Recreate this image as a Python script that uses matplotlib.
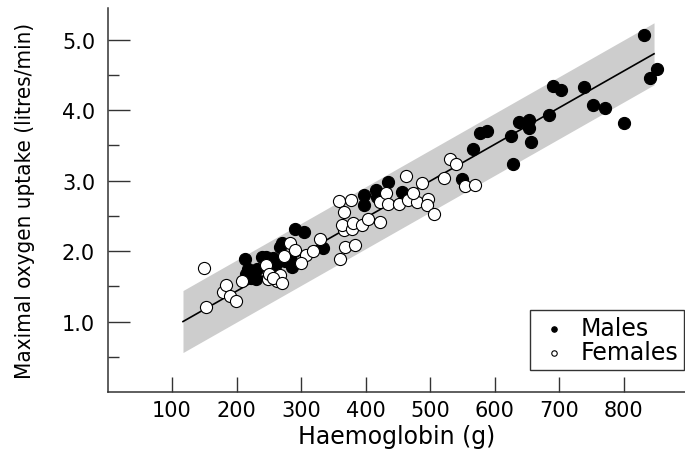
import matplotlib
matplotlib.use("Agg")
import matplotlib.pyplot as plt
import numpy as np

# haemoglobin (g) and VO2max (litres/min)
males_hb = [213, 218, 215, 231, 230, 239, 252, 257, 261, 267, 270, 275, 283,
            286, 291, 305, 334, 397, 397, 416, 417, 435, 457, 549, 567, 577,
            588, 625, 628, 638, 654, 654, 656, 685, 690, 703, 739, 753, 771,
            800, 832, 841, 851, 246, 222]
males_vo2 = [1.89, 1.75, 1.67, 1.75, 1.61, 1.91, 1.68, 1.90, 1.82, 2.06, 2.12,
             1.86, 1.89, 1.78, 2.31, 2.27, 2.05, 2.80, 2.66, 2.86, 2.77, 2.98,
             2.84, 3.03, 3.45, 3.68, 3.70, 3.63, 3.23, 3.83, 3.86, 3.75, 3.55,
             3.93, 4.35, 4.29, 4.33, 4.08, 4.03, 3.82, 5.06, 4.45, 4.58, 1.92,
             1.62]

females_hb = [150, 153, 179, 184, 190, 199, 208, 246, 248, 250, 262, 267, 274,
              283, 290, 307, 318, 329, 360, 368, 384, 366, 363, 379, 381, 394,
              404, 422, 359, 377, 366, 422, 432, 435, 451, 466, 480, 474, 463,
              487, 497, 495, 506, 521, 531, 540, 554, 570, 256, 270, 300]
females_vo2 = [1.76, 1.21, 1.42, 1.52, 1.36, 1.29, 1.57, 1.80, 1.60, 1.67, 1.58,
               1.66, 1.93, 2.12, 2.02, 1.95, 2.00, 2.17, 1.89, 2.06, 2.08, 2.30,
               2.37, 2.32, 2.40, 2.37, 2.46, 2.41, 2.71, 2.72, 2.56, 2.70, 2.82,
               2.67, 2.67, 2.73, 2.70, 2.82, 3.07, 2.97, 2.74, 2.65, 2.52, 3.04,
               3.31, 3.23, 2.93, 2.94, 1.62, 1.55, 1.83]

# fitted line and its band, as drawn
fit_hb = [117, 847]
fit_vo2 = [1.00, 4.80]
band_low = [0.56, 4.36]
band_high = [1.44, 5.24]

xticks = [100, 200, 300, 400, 500, 600, 700, 800]
yticks = [1.0, 2.0, 3.0, 4.0, 5.0]
yminor = [0.5, 1.5, 2.5, 3.5, 4.5]

plt.rcParams['font.family'] = ['DejaVu Sans']

fig = plt.figure(figsize=(6.85, 4.52), dpi=100)
ax = fig.add_axes([107.5 / 685, 59 / 452, 577.5 / 685, 384 / 452])

ax.fill_between(fit_hb, band_low, band_high, color='#cdcdcd', lw=0, zorder=1)
ax.plot(fit_hb, fit_vo2, color='black', lw=1.2, zorder=2)

ax.scatter(males_hb, males_vo2, s=76, facecolor='black', edgecolor='black',
           linewidths=0.8, zorder=3, label='Males')
ax.scatter(females_hb, females_vo2, s=76, facecolor='white',
           edgecolor='black', linewidths=0.8, zorder=4, label='Females')

ax.set_xlim(0, 895)
ax.set_ylim(0, 5.45)

for side in ['top', 'right']:
    ax.spines[side].set_visible(False)
for side in ['left', 'bottom']:
    ax.spines[side].set_linewidth(1.1)
    ax.spines[side].set_color('#333333')

ax.set_xticks(xticks)
ax.set_xticklabels([str(v) for v in xticks])
ax.set_yticks(yticks)
ax.set_yticklabels(['%.1f' % v for v in yticks])
ax.set_yticks(yminor, minor=True)

ax.tick_params(axis='x', direction='in', length=11, width=1.0,
               color='#333333', labelsize=15, pad=6)
ax.tick_params(axis='y', which='major', direction='in', length=16, width=1.0,
               color='#333333', labelsize=15, pad=9)
ax.tick_params(axis='y', which='minor', direction='in', length=8, width=1.0,
               color='#333333')

ax.set_xlabel('Haemoglobin (g)', fontsize=17, labelpad=3)
ax.set_ylabel('Maximal oxygen uptake (litres/min)', fontsize=16,
              family=['Liberation Sans Narrow', 'DejaVu Sans'],
              fontstretch='condensed', labelpad=19)

leg = ax.legend(loc='upper right', bbox_to_anchor=(684 / 685, 1 - 311 / 452),
                bbox_transform=fig.transFigure, fontsize=17, markerscale=0.45,
                frameon=True, fancybox=False, handlelength=1.6,
                handletextpad=0.3, borderpad=0.25, labelspacing=0.0,
                borderaxespad=0)
leg.get_frame().set_edgecolor('black')
leg.get_frame().set_linewidth(1.0)

fig.savefig('out.png', dpi=100)
